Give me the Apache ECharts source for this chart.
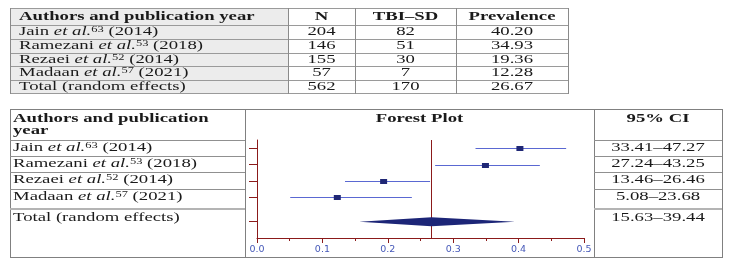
<!doctype html>
<html lang="en">
<head>
<meta charset="UTF-8" />
<title>TBI-SD prevalence forest plot</title>
<script src="https://cdn.jsdelivr.net/npm/echarts@6/dist/echarts.min.js"></script>
<style>html,body{margin:0;background:#fff}</style>
</head>
<body>
<div id="chart1" style="width:732px;height:266px"></div>
<script>
// study data
const authors = ['Jain', 'Ramezani', 'Rezaei', 'Madaan'];
const refNums = ['63', '53', '52', '57'];
const years = ['2014', '2018', '2014', '2021'];
const totalLabel = 'Total (random effects)';
const sampleN = [204, 146, 155, 57, 562];
const tbiSD = [82, 51, 30, 7, 170];
const prevalence = [40.2, 34.93, 19.36, 12.28, 26.67];
const ciLow = [33.41, 27.24, 13.46, 5.08, 15.63];
const ciHigh = [47.27, 43.25, 26.46, 23.68, 39.44];
const topHeaders = ['Authors and publication year', 'N', 'TBI\u2013SD', 'Prevalence'];
const plotHeaders = ['Authors and publication', 'year', 'Forest Plot', '95% CI'];

// layout (row slots on the forest plot y axis, Total sits a bit lower)
const rowSlot = [0, 1, 2, 3, 4.5];

const RED = '#8b1a1a';
const SERIF = '"Liberation Serif", "Times New Roman", serif';
const FS = 12;
const SX = 1.56;
const RICH = {
  it: { fontStyle: 'italic', fontSize: FS, fontFamily: SERIF, fill: '#1a1a1a' },
  sup: { fontSize: 8, fontFamily: SERIF, fill: '#1a1a1a', verticalAlign: 'top' }
};

const g = [];
function line(x1, y1, x2, y2, color, w) {
  g.push({ type: 'line', silent: true, shape: { x1, y1, x2, y2 },
    style: { stroke: color || '#8a8a8a', lineWidth: w || 1 } });
}
function rect(x, y, w, h, fill) {
  g.push({ type: 'rect', silent: true, shape: { x, y, width: w, height: h }, style: { fill } });
}
function text(x, y, str, align, bold) {
  g.push({ type: 'text', silent: true, x, y, scaleX: SX,
    style: { text: str, fill: '#1a1a1a', fontSize: FS, fontFamily: SERIF,
      fontWeight: bold ? 'bold' : 'normal',
      align: align || 'left', verticalAlign: 'middle',
      textAlign: align || 'left', textVerticalAlign: 'middle', rich: RICH } });
}
const studyLabel = (i) => authors[i] + ' {it|et al.}{sup|' + refNums[i] + '} (' + years[i] + ')';
const rowLabel = (i) => (i < authors.length ? studyLabel(i) : totalLabel);

// ---- top table ----
const TX = [10, 288, 355, 456, 568];
const TY = [8, 24.5, 38.5, 52.5, 66, 79.5, 93];
rect(TX[0], TY[0], TX[1] - TX[0], TY[6] - TY[0], '#ececec');
for (let r = 0; r < TY.length; r++) line(TX[0], Math.round(TY[r]) + 0.5, TX[4], Math.round(TY[r]) + 0.5, '#9a9a9a');
for (let c = 0; c < TX.length; c++) line(TX[c] + 0.5, TY[0], TX[c] + 0.5, TY[6] + 1, '#8a8a8a');
const tCenter = (r) => (TY[r] + TY[r + 1]) / 2 + 0.5;
text(19, tCenter(0), topHeaders[0], 'left', true);
for (let c = 1; c < 4; c++) text((TX[c] + TX[c + 1]) / 2, tCenter(0), topHeaders[c], 'center', true);
for (let i = 0; i < 5; i++) {
  const y = tCenter(i + 1);
  text(19, y, rowLabel(i), 'left');
  text((TX[1] + TX[2]) / 2, y, String(sampleN[i]), 'center');
  text((TX[2] + TX[3]) / 2, y, String(tbiSD[i]), 'center');
  text((TX[3] + TX[4]) / 2, y, prevalence[i].toFixed(2), 'center');
}

// ---- bottom table ----
const BX = [10, 245, 594, 722];
const BY = [109, 140, 156, 172, 189, 209, 257];
line(BX[0], BY[0] + 0.5, BX[3], BY[0] + 0.5, '#808080');
line(BX[0], BY[6] + 0.5, BX[3], BY[6] + 0.5, '#808080');
for (let c = 0; c < BX.length; c++) line(BX[c] + 0.5, BY[0], BX[c] + 0.5, BY[6] + 1, '#808080');
for (let r = 1; r < 6; r++) {
  const w = r === 5 ? 2 : 1;
  const col = r === 5 ? '#b4b4b4' : '#909090';
  const y = r === 5 ? BY[r] : BY[r] + 0.5;
  line(BX[0], y, BX[1], y, col, w);
  line(BX[2], y, BX[3], y, col, w);
}
text(13, 119, plotHeaders[0], 'left', true);
text(13, 131, plotHeaders[1], 'left', true);
text((BX[1] + BX[2]) / 2, 119, plotHeaders[2], 'center', true);
text((BX[2] + BX[3]) / 2, 119, plotHeaders[3], 'center', true);
const rowY = [148, 164, 180, 197, 218];
for (let i = 0; i < 5; i++) {
  text(13, rowY[i], rowLabel(i), 'left');
  text((BX[2] + BX[3]) / 2, rowY[i], ciLow[i].toFixed(2) + '\u2013' + ciHigh[i].toFixed(2), 'center');
}

// ---- forest plot ----
const forestData = prevalence.map((p, i) => [p / 100, ciLow[i] / 100, ciHigh[i] / 100, rowSlot[i]]);
const pooled = prevalence[prevalence.length - 1] / 100;

const chart1 = echarts.init(document.getElementById('chart1'), null, { renderer: 'canvas' });
chart1.setOption({
  animation: false,
  graphic: { elements: g },
  grid: { left: 257, right: 148, top: 140, bottom: 28 },
  xAxis: {
    type: 'value', min: 0, max: 0.5, interval: 0.1,
    axisLine: { onZero: false, lineStyle: { color: RED, width: 1 } },
    axisTick: { length: 5, lineStyle: { color: RED } },
    minorTick: { show: true, splitNumber: 2, length: 3, lineStyle: { color: RED } },
    splitLine: { show: false },
    axisLabel: { color: '#4558b8', fontFamily: 'DejaVu Sans', fontSize: 9.5, margin: 7,
      formatter: (v) => v.toFixed(1) }
  },
  yAxis: {
    type: 'value', inverse: true, min: -0.5, max: 5.5,
    axisLine: { show: true, onZero: false, lineStyle: { color: RED, width: 1 } },
    axisTick: { show: true, length: 8, customValues: rowSlot, lineStyle: { color: RED } },
    axisLabel: { show: false },
    splitLine: { show: false }
  },
  series: [
    {
      type: 'custom',
      data: forestData,
      encode: { x: [0, 1, 2], y: 3 },
      renderItem: (params, api) => {
        const y = api.value(3);
        const pc = api.coord([api.value(0), y]);
        const pl = api.coord([api.value(1), y]);
        const ph = api.coord([api.value(2), y]);
        if (params.dataIndex === prevalence.length - 1) {
          // pooled estimate: reference line + diamond
          const top = api.coord([pooled, -0.5]);
          const bot = api.coord([pooled, 5.5]);
          const vx = Math.round(top[0]) + 0.5;
          return {
            type: 'group',
            children: [
              { type: 'line', shape: { x1: vx, y1: top[1], x2: vx, y2: bot[1] },
                style: { stroke: RED, lineWidth: 1 } },
              { type: 'polygon',
                shape: { points: [[pl[0], pc[1]], [pc[0], pc[1] - 4.5], [ph[0], pc[1]], [pc[0], pc[1] + 4.5]] },
                style: { fill: '#1c2577' } }
            ]
          };
        }
        return {
          type: 'group',
          children: [
            { type: 'line', shape: { x1: pl[0], y1: Math.round(pc[1]) + 0.5, x2: ph[0], y2: Math.round(pc[1]) + 0.5 },
              style: { stroke: '#5a68d2', lineWidth: 1 } },
            { type: 'rect', shape: { x: pc[0] - 3.5, y: Math.round(pc[1]) - 2, width: 7, height: 5 },
              style: { fill: '#1f2775' } }
          ]
        };
      }
    }
  ]
});
</script>
</body>
</html>
